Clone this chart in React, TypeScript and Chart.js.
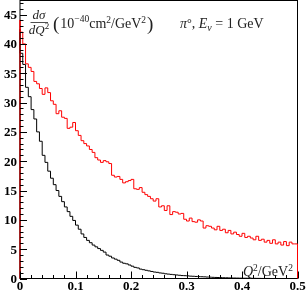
import React, { useEffect, useRef } from 'react';
import { Chart, registerables } from 'chart.js';

Chart.register(...registerables);

// Q^2 range of the histograms (GeV^2)
const xMin = 0;
const xMax = 0.5;
const yMax = 47.4;

// red histogram (upper curve)
const redValues = [
  44.1, 42.0, 40.0, 36.6, 36.0, 35.3, 33.6, 33.2, 32.4, 31.4,
  32.5, 31.7, 30.3, 29.7, 28.1, 28.6, 27.5, 27.3, 25.6, 25.8,
  26.6, 25.2, 24.4, 23.5, 23.0, 22.6, 22.0, 21.5, 20.6, 20.2,
  19.8, 20.1, 19.9, 19.6, 17.6, 17.3, 17.4, 16.9, 16.3, 16.5,
  16.7, 16.9, 15.3, 15.2, 15.5, 14.7, 14.3, 14.0, 13.6, 13.2,
  13.6, 12.2, 12.4, 11.6, 12.4, 10.9, 11.4, 11.3, 11.0, 11.1,
  10.1, 9.8, 10.3, 9.7, 9.6, 10.0, 9.8, 8.6, 9.0, 8.9,
  8.6, 8.3, 8.9, 8.2, 8.4, 7.8, 8.2, 7.6, 7.9, 7.5,
  7.2, 7.7, 7.0, 7.2, 6.9, 6.6, 7.2, 6.5, 6.7, 6.2,
  6.5, 6.0, 6.6, 5.9, 6.2, 5.7, 6.3, 5.6, 6.2, 5.9,
];

// black histogram (lower curve)
const blackValues = [
  42.5, 38.4, 36.5, 32.6, 31.0, 28.8, 27.2, 25.0, 23.4, 21.0,
  19.8, 18.3, 17.1, 16.0, 15.0, 14.0, 13.1, 12.2, 11.4, 10.6,
  9.9, 9.1, 8.4, 7.6, 7.0, 6.5, 6.1, 5.7, 5.4, 5.1,
  4.8, 4.5, 4.0, 3.8, 3.5, 3.3, 3.1, 2.8, 2.6, 2.5,
  2.3, 2.1, 1.9, 1.8, 1.6, 1.5, 1.4, 1.3, 1.2, 1.1,
  1.05, 0.95, 0.9, 0.8, 0.75, 0.7, 0.65, 0.6, 0.55, 0.5,
  0.48, 0.45, 0.4, 0.38, 0.35, 0.32, 0.3, 0.28, 0.25, 0.23,
  0.2, 0.18, 0.17, 0.15, 0.13, 0.12, 0.1, 0.09, 0.08, 0.07,
  0.06, 0.05, 0.05, 0.04, 0.03, 0.03, 0.02, 0.02, 0.01, 0.01,
  0.01, 0, 0, 0, 0, 0, 0, 0, 0, 0,
];

const xTickLabels = ['0', '0.1', '0.2', '0.3', '0.4', '0.5'];
const yTickLabels = ['0', '5', '10', '15', '20', '25', '30', '35', '40', '45'];
const xMinorStep = 0.02;
const yMinorStep = 1;

const SERIF = '"Liberation Serif", "DejaVu Serif", serif';

function histPoints(vals: number[]) {
  const w = (xMax - xMin) / vals.length;
  const pts: { x: number; y: number }[] = [{ x: xMin, y: 0 }];
  vals.forEach((v, i) => pts.push({ x: xMin + i * w, y: v }));
  pts.push({ x: xMax, y: vals[vals.length - 1] });
  pts.push({ x: xMax, y: 0 });
  return pts;
}

type Seg = { t: string; size: number; italic?: boolean; dy?: number };

function segWidth(ctx: CanvasRenderingContext2D, segs: Seg[]) {
  let w = 0;
  for (const s of segs) {
    ctx.font = `${s.italic ? 'italic ' : ''}${s.size}px ${SERIF}`;
    w += ctx.measureText(s.t).width;
  }
  return w;
}

function drawSegs(ctx: CanvasRenderingContext2D, x: number, y: number, segs: Seg[]) {
  let cx = x;
  for (const s of segs) {
    ctx.font = `${s.italic ? 'italic ' : ''}${s.size}px ${SERIF}`;
    ctx.fillText(s.t, cx, y + (s.dy || 0));
    cx += ctx.measureText(s.t).width;
  }
  return cx;
}

const framePlugin = {
  id: 'rootFrame',
  beforeDatasetsDraw(chart: any) {
    const { ctx, chartArea } = chart;
    const { left, right, top, bottom } = chartArea;
    ctx.save();
    ctx.strokeStyle = '#000';
    ctx.lineWidth = 1;
    ctx.strokeRect(left, top, right - left, bottom - top);
    ctx.restore();
  },
  afterDraw(chart: any) {
    const { ctx, chartArea, scales } = chart;
    const { left, bottom } = chartArea;
    const xs = scales.x;
    const ys = scales.y;
    ctx.save();
    ctx.strokeStyle = '#000';
    ctx.lineWidth = 1;
    // y ticks (inside)
    for (let v = 0; v <= yMax + 1e-9; v += yMinorStep) {
      const py = Math.round(ys.getPixelForValue(v)) + 0.5;
      const major = Math.abs(v / 5 - Math.round(v / 5)) < 1e-6;
      ctx.beginPath();
      ctx.moveTo(left, py);
      ctx.lineTo(left + (major ? 7 : 3.5), py);
      ctx.stroke();
    }
    // x ticks (inside)
    for (let i = 0; i * xMinorStep <= xMax + 1e-9; i++) {
      const v = i * xMinorStep;
      const px = Math.round(xs.getPixelForValue(v)) + 0.5;
      const major = i % 5 === 0;
      ctx.beginPath();
      ctx.moveTo(px, bottom);
      ctx.lineTo(px, bottom - (major ? 7 : 3.5));
      ctx.stroke();
    }
    // tick labels
    ctx.fillStyle = '#000';
    ctx.font = `bold 13px ${SERIF}`;
    ctx.textAlign = 'right';
    ctx.textBaseline = 'alphabetic';
    yTickLabels.forEach((l) => {
      const py = ys.getPixelForValue(parseFloat(l));
      ctx.fillText(l, 17, py + 4.5);
    });
    ctx.textAlign = 'center';
    xTickLabels.forEach((l) => {
      const px = xs.getPixelForValue(parseFloat(l));
      ctx.fillText(l, px, 290);
    });

    // annotations
    ctx.fillStyle = '#222';
    ctx.textAlign = 'left';
    // fraction d sigma / d Q^2
    const num: Seg[] = [{ t: 'dσ', size: 13, italic: true }];
    const den: Seg[] = [
      { t: 'dQ', size: 13, italic: true },
      { t: '2', size: 9, dy: -5 },
    ];
    const fcx = 39;
    drawSegs(ctx, fcx - segWidth(ctx, num) / 2, 19, num);
    drawSegs(ctx, fcx - segWidth(ctx, den) / 2, 33.5, den);
    ctx.strokeStyle = '#222';
    ctx.lineWidth = 0.8;
    ctx.beginPath();
    ctx.moveTo(30.5, 22.5);
    ctx.lineTo(48, 22.5);
    ctx.stroke();
    // units
    let cx = drawSegs(ctx, 53, 29.5, [{ t: '(', size: 19 }]);
    cx = drawSegs(ctx, cx + 1, 27.5, [
      { t: '10', size: 14 },
      { t: '−40', size: 9.5, dy: -6 },
      { t: 'cm', size: 14 },
      { t: '2', size: 9.5, dy: -5 },
      { t: '/GeV', size: 14 },
      { t: '2', size: 9.5, dy: -5 },
    ]);
    drawSegs(ctx, cx + 1, 29.5, [{ t: ')', size: 19 }]);

    // pi0, E_nu = 1 GeV
    drawSegs(ctx, 180, 27.5, [
      { t: 'π', size: 14, italic: true },
      { t: '°', size: 12, dy: -1 },
      { t: ', ', size: 14 },
      { t: 'E', size: 14, italic: true },
      { t: 'ν', size: 10, italic: true, dy: 3 },
      { t: ' = 1 GeV', size: 14 },
    ]);

    // Q^2/GeV^2
    drawSegs(ctx, 243, 276, [
      { t: 'Q', size: 14, italic: true },
      { t: '2', size: 9.5, dy: -5 },
      { t: '/GeV', size: 14 },
      { t: '2', size: 9.5, dy: -5 },
    ]);
    ctx.restore();
  },
};

export default function App() {
  const ref = useRef<HTMLCanvasElement | null>(null);
  useEffect(() => {
    if (!ref.current) return;
    const chart = new Chart(ref.current, {
      type: 'line',
      data: {
        datasets: [
          {
            data: histPoints(redValues),
            borderColor: '#ff0000',
            borderWidth: 1,
            stepped: 'after',
            pointRadius: 0,
            fill: false,
            clip: false as any,
          },
          {
            data: histPoints(blackValues),
            borderColor: '#000000',
            borderWidth: 1,
            stepped: 'after',
            pointRadius: 0,
            fill: false,
            clip: false as any,
          },
        ],
      },
      options: {
        animation: false,
        responsive: false,
        parsing: false as any,
        layout: { padding: { left: 20, right: 8.5, top: 0.5, bottom: 12.5 } },
        plugins: { legend: { display: false }, tooltip: { enabled: false } },
        scales: {
          x: { type: 'linear', min: xMin, max: xMax, display: false },
          y: { type: 'linear', min: 0, max: yMax, display: false },
        },
      },
      plugins: [framePlugin],
    });
    return () => chart.destroy();
  }, []);
  return (
    <div style={{ position: 'fixed', left: 0, top: 0, width: 306, height: 291, background: '#fff' }}>
      <canvas ref={ref} width={306} height={291} style={{ display: 'block' }} />
    </div>
  );
}
